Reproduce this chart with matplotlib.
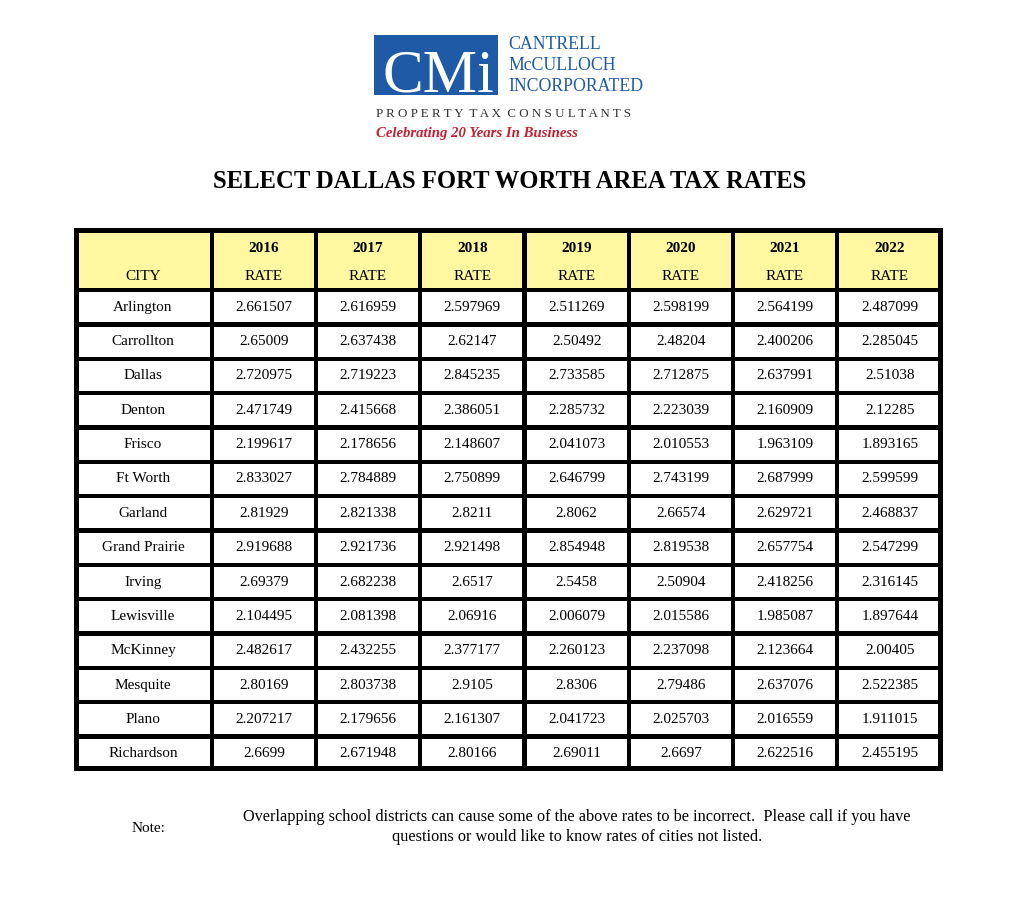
import matplotlib
matplotlib.use('Agg')
import matplotlib.pyplot as plt
from matplotlib.patches import Rectangle

# table data
cities = ['Arlington', 'Carrollton', 'Dallas', 'Denton', 'Frisco', 'Ft Worth', 'Garland',
          'Grand Prairie', 'Irving', 'Lewisville', 'McKinney', 'Mesquite', 'Plano', 'Richardson']
years = ['2016', '2017', '2018', '2019', '2020', '2021', '2022']
rate_2016 = ['2.661507', '2.65009', '2.720975', '2.471749', '2.199617', '2.833027', '2.81929',
             '2.919688', '2.69379', '2.104495', '2.482617', '2.80169', '2.207217', '2.6699']
rate_2017 = ['2.616959', '2.637438', '2.719223', '2.415668', '2.178656', '2.784889', '2.821338',
             '2.921736', '2.682238', '2.081398', '2.432255', '2.803738', '2.179656', '2.671948']
rate_2018 = ['2.597969', '2.62147', '2.845235', '2.386051', '2.148607', '2.750899', '2.8211',
             '2.921498', '2.6517', '2.06916', '2.377177', '2.9105', '2.161307', '2.80166']
rate_2019 = ['2.511269', '2.50492', '2.733585', '2.285732', '2.041073', '2.646799', '2.8062',
             '2.854948', '2.5458', '2.006079', '2.260123', '2.8306', '2.041723', '2.69011']
rate_2020 = ['2.598199', '2.48204', '2.712875', '2.223039', '2.010553', '2.743199', '2.66574',
             '2.819538', '2.50904', '2.015586', '2.237098', '2.79486', '2.025703', '2.6697']
rate_2021 = ['2.564199', '2.400206', '2.637991', '2.160909', '1.963109', '2.687999', '2.629721',
             '2.657754', '2.418256', '1.985087', '2.123664', '2.637076', '2.016559', '2.622516']
rate_2022 = ['2.487099', '2.285045', '2.51038', '2.12285', '1.893165', '2.599599', '2.468837',
             '2.547299', '2.316145', '1.897644', '2.00405', '2.522385', '1.911015', '2.455195']
rates = [rate_2016, rate_2017, rate_2018, rate_2019, rate_2020, rate_2021, rate_2022]

title = 'SELECT DALLAS FORT WORTH AREA TAX RATES'
note_label = 'Note:'
note_text = ('Overlapping school districts can cause some of the above rates to be incorrect.  '
             'Please call if you have\nquestions or would like to know rates of cities not listed.')

SERIF = 'Liberation Serif'
YELLOW = '#fff8a0'
BLUE = '#1f5aa6'
RED = '#c42032'

fig = plt.figure(figsize=(10.24, 9.06), dpi=100)
ax = fig.add_axes([0, 0, 1, 1])
ax.set_xlim(0, 1024)
ax.set_ylim(906, 0)
ax.axis('off')

# --- logo ---
ax.add_patch(Rectangle((374, 35), 124, 60, color=BLUE, lw=0))
ax.text(438, 92, 'CMi', color='white', fontsize=44, family=SERIF, ha='center', va='baseline')
for i, word in enumerate(['CANTRELL', 'McCULLOCH', 'INCORPORATED']):
    ax.text(508, 49 + i * 21, word, color=BLUE, fontsize=12.8, family=SERIF,
            ha='left', va='baseline')
ax.text(376, 117, '  '.join(' '.join(w) for w in 'PROPERTY TAX CONSULTANTS'.split()),
        color='#333333', fontsize=9.4, family=SERIF, ha='left', va='baseline')
ax.text(376, 137, 'Celebrating 20 Years In Business', color=RED, fontsize=10.6,
        family=SERIF, style='italic', weight='bold', ha='left', va='baseline')

ax.text(510, 181, title, fontsize=17.7, family=SERIF, weight='bold', ha='center', va='center')

# --- table ---
x_edges = [74, 212, 316, 420, 524.5, 629, 733, 837, 943]
top, head_bot, bottom = 228, 290, 771
row_h = (bottom - head_bot) / len(cities)
y_edges = [top, head_bot] + [head_bot + row_h * (i + 1) for i in range(len(cities))]
outer, gap = 5, 2.2

ax.add_patch(Rectangle((x_edges[0], top), x_edges[-1] - x_edges[0], bottom - top,
                       color='black', lw=0))
ncol = len(x_edges) - 1
nrow = len(y_edges) - 1
for r in range(nrow):
    y0 = y_edges[r] + (outer if r == 0 else gap)
    y1 = y_edges[r + 1] - (outer if r == nrow - 1 else gap)
    for c in range(ncol):
        x0 = x_edges[c] + (outer if c == 0 else gap)
        x1 = x_edges[c + 1] - (outer if c == ncol - 1 else gap)
        ax.add_patch(Rectangle((x0, y0), x1 - x0, y1 - y0, lw=0,
                               color=YELLOW if r == 0 else 'white'))

cell_fs = 11
xc = [(x_edges[c] + x_edges[c + 1]) / 2 for c in range(ncol)]
ax.text(xc[0], 277, 'CITY', fontsize=cell_fs, family=SERIF, ha='center', va='center')
for c, yr in enumerate(years):
    ax.text(xc[c + 1], 248, yr, fontsize=cell_fs, family=SERIF, weight='bold',
            ha='center', va='center')
    ax.text(xc[c + 1], 277, 'RATE', fontsize=cell_fs, family=SERIF, ha='center', va='center')

for r, city in enumerate(cities):
    yc = (y_edges[r + 1] + y_edges[r + 2]) / 2
    ax.text(xc[0], yc, city, fontsize=cell_fs, family=SERIF, ha='center', va='center')
    for c, col in enumerate(rates):
        ax.text(xc[c + 1], yc, col[r], fontsize=cell_fs, family=SERIF,
                ha='center', va='center')

# --- note ---
ax.text(148, 829, note_label, fontsize=11, family=SERIF, ha='center', va='center')
ax.text(577, 827, note_text, fontsize=11.7, family=SERIF, ha='center', va='center',
        linespacing=1.35)

fig.savefig('out.png', dpi=100)
